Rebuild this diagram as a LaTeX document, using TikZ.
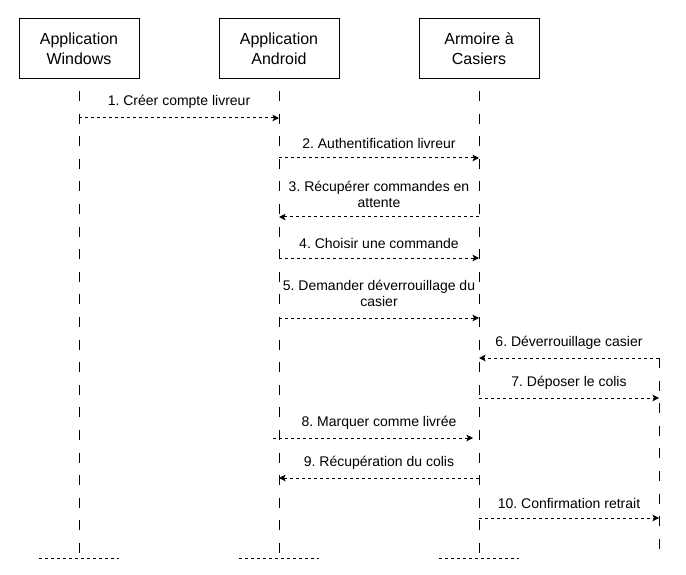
\documentclass[tikz,border=0pt]{standalone}
\usepackage{fontspec}
\setmainfont{Liberation Sans}
\usetikzlibrary{arrows.meta}
\frenchspacing
\begin{document}
\begin{tikzpicture}[x=1pt,y=-1pt,
  actor/.style={draw,line width=1pt,minimum width=120pt,minimum height=60pt,inner sep=0pt,align=center,font=\fontsize{16}{20}\selectfont},
  life/.style={line width=1pt,dash pattern=on 10pt off 12.6pt},
  msg/.style={line width=1pt,dash pattern=on 3pt off 3pt,-{Stealth[length=6.5pt,width=6.5pt,inset=1.5pt]}},
  lbl/.style={align=center,font=\fontsize{14}{16}\selectfont,inner sep=0pt},
  foot/.style={line width=1pt,dash pattern=on 3pt off 3pt}]
\useasboundingbox (0,0) rectangle (686,575);
% actors
\node[actor] (win) at (79,48.5) {Application\\Windows};
\node[actor] (and) at (279,48.5) {Application\\Android};
\node[actor] (arm) at (479,48.5) {Armoire à\\Casiers};
% lifeline ends
\coordinate (wT) at (79,91);  \coordinate (wB) at (79,558);
\coordinate (aT) at (279,91); \coordinate (aB) at (279,558);
\coordinate (cT) at (479,91); \coordinate (cB) at (479,558);
\coordinate (xT) at (659,358); \coordinate (xB) at (659,560);
\draw[life] (wT) -- (wB);
\draw[life] (aT) -- (aB);
\draw[life] (cT) -- (cB);
\draw[life] (xT) -- (xB);
% feet
\coordinate (f1a) at (39,558);  \coordinate (f1b) at (119,558);
\coordinate (f2a) at (239,558); \coordinate (f2b) at (319,558);
\coordinate (f3a) at (439,558); \coordinate (f3b) at (519,558);
\draw[foot] (f1a) -- (f1b);
\draw[foot] (f2a) -- (f2b);
\draw[foot] (f3a) -- (f3b);
% message rows
\coordinate (y1) at (0,118);
\coordinate (y2) at (0,158);
\coordinate (y3) at (0,217);
\coordinate (y4) at (0,258);
\coordinate (y5) at (0,318);
\coordinate (y6) at (0,358);
\coordinate (y7) at (0,398);
\coordinate (y9) at (0,478);
\coordinate (y10) at (0,518);
\coordinate (m8s) at (273,438);
\coordinate (m8e) at (473,438);
% messages
\draw[msg] (wT |- y1) -- (aT |- y1);
\draw[msg] (aT |- y2) -- (cT |- y2);
\draw[msg] (cT |- y3) -- (aT |- y3);
\draw[msg] (aT |- y4) -- (cT |- y4);
\draw[msg] (aT |- y5) -- (cT |- y5);
\draw[msg] (xT |- y6) -- (cT |- y6);
\draw[msg] (cT |- y7) -- (xT |- y7);
\draw[msg] (m8s) -- (m8e);
\draw[msg] (cT |- y9) -- (aT |- y9);
\draw[msg] (cT |- y10) -- (xT |- y10);
% labels
\node[lbl] (t1) at (179,102) {1. Créer compte livreur};
\node[lbl] (t2) at (379,143) {2. Authentification livreur};
\node[lbl] (t3) at (379,194) {3. Récupérer commandes en\\attente};
\node[lbl] (t4) at (379,243) {4. Choisir une commande};
\node[lbl] (t5) at (379,293) {5. Demander déverrouillage du\\casier};
\node[lbl] (t6) at (569,343) {6. Déverrouillage casier};
\node[lbl] (t7) at (569,383) {7. Déposer le colis};
\node[lbl] (t8) at (379,423) {8. Marquer comme livrée};
\node[lbl] (t9) at (379,463) {9. Récupération du colis};
\node[lbl] (t10) at (569,503) {10. Confirmation retrait};
\end{tikzpicture}
\end{document}
